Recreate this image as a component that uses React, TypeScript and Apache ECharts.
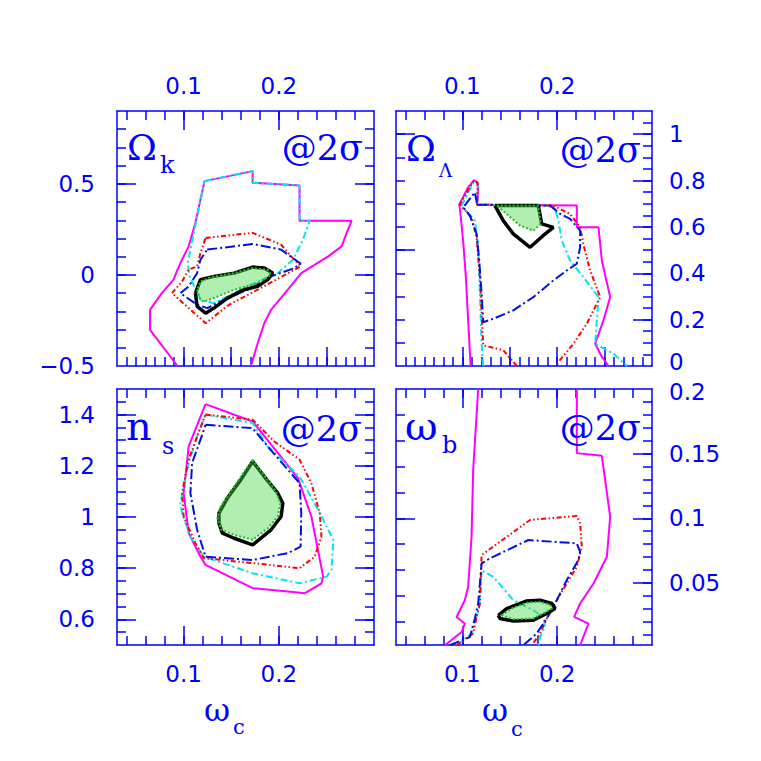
import React, { useEffect, useRef } from "react";
import * as echarts from "echarts";

// ---------- axis ranges & tick labels ----------
const X_MIN = 0.03;
const X_MAX = 0.3;
const xTickVals = [0.1, 0.2];
const xTickLabels = ["0.1", "0.2"];

const okRange = [-0.5, 0.9];
const okTickVals = [-0.5, 0, 0.5];
const okTickLabels = ["\u22120.5", "0", "0.5"];

const olRange = [0, 1.1];
const olTickVals = [0, 0.2, 0.4, 0.6, 0.8, 1];
const olTickLabels = ["0", "0.2", "0.4", "0.6", "0.8", "1"];

const nsRange = [0.5, 1.5];
const nsTickVals = [0.6, 0.8, 1, 1.2, 1.4];
const nsTickLabels = ["0.6", "0.8", "1", "1.2", "1.4"];

const obRange = [0.002, 0.2];
const obTickVals = [0.05, 0.1, 0.15, 0.2];
const obTickLabels = ["0.05", "0.1", "0.15", "0.2"];

// ---------- contour data: Omega_k vs omega_c ----------
const okMagenta = [[0.0936,-0.5],[0.0647,-0.302],[0.0647,-0.192],[0.0771,-0.1],[0.0894,-0.026],[0.0936,0.029],[0.0983,0.084],[0.1053,0.157],[0.1124,0.286],[0.1177,0.414],[0.1219,0.515],[0.1725,0.57],[0.1725,0.506],[0.2218,0.491],[0.2218,0.298],[0.2766,0.298],[0.2713,0.231],[0.266,0.157],[0.2519,0.102],[0.2236,0.01],[0.2095,-0.081],[0.1918,-0.192],[0.1847,-0.265],[0.1778,-0.375],[0.1707,-0.5]];
const okCyan = [[0.1219,0.515],[0.1725,0.57],[0.1725,0.506],[0.2218,0.491],[0.2218,0.298],[0.2324,0.298],[0.2254,0.194],[0.2148,0.084],[0.1989,0.01],[0.1778,-0.036],[0.153,-0.1],[0.1318,-0.155],[0.1177,-0.137],[0.1064,-0.008],[0.1042,0.066],[0.1089,0.184],[0.1142,0.322],[0.1195,0.451]];
const okRed = [[0.1231,0.203],[0.1725,0.231],[0.2024,0.166],[0.213,0.102],[0.2229,0.047],[0.1778,-0.081],[0.1477,-0.164],[0.1231,-0.265],[0.1053,-0.182],[0.0877,-0.1],[0.0983,-0.036],[0.1053,0.029],[0.1142,0.047],[0.1177,0.121]];
const okBlue = [[0.1248,0.139],[0.1725,0.17],[0.2024,0.139],[0.2229,0.062],[0.2165,0.038],[0.1918,-0.008],[0.1671,-0.081],[0.146,-0.127],[0.1248,-0.182],[0.1142,-0.164],[0.0965,-0.1],[0.1053,-0.063],[0.1142,0.01],[0.1177,0.084]];
const okBlack = [[0.1124,-0.1],[0.1142,-0.173],[0.1231,-0.21],[0.1318,-0.182],[0.146,-0.127],[0.1636,-0.081],[0.1778,-0.063],[0.1883,-0.026],[0.1936,0.01],[0.1847,0.038],[0.1725,0.043],[0.153,0.01],[0.1318,-0.008],[0.1177,-0.026]];
const okGreen = [[0.1142,-0.081],[0.1177,-0.137],[0.1212,-0.146],[0.1318,-0.127],[0.153,-0.081],[0.1778,-0.045],[0.1918,0.001],[0.1883,0.029],[0.1725,0.038],[0.153,0.01],[0.1283,-0.012],[0.1177,-0.036]];

// ---------- Omega_Lambda vs omega_c ----------
const olMagenta = [[0.1087,0],[0.1061,0.197],[0.1037,0.383],[0.1008,0.541],[0.0974,0.678],[0.0966,0.696],[0.1061,0.771],[0.1122,0.802],[0.1156,0.792],[0.1167,0.771],[0.1156,0.696],[0.2207,0.692],[0.2207,0.598],[0.2436,0.598],[0.2471,0.455],[0.2559,0.297],[0.2488,0.197],[0.2401,0.096],[0.2471,0.039],[0.2541,0]];
const olRed = [[0.1573,0],[0.1431,0.068],[0.122,0.089],[0.1203,0.226],[0.1185,0.383],[0.115,0.555],[0.1097,0.641],[0.0974,0.696],[0.1114,0.796],[0.1161,0.792],[0.1156,0.696],[0.196,0.692],[0.2136,0.656],[0.2242,0.598],[0.2284,0.512],[0.2348,0.412],[0.2453,0.297],[0.2313,0.183],[0.2171,0.096],[0.1978,0]];
const olCyan = [[0.122,0],[0.1203,0.096],[0.1185,0.312],[0.1167,0.512],[0.1132,0.627],[0.0992,0.692],[0.1122,0.796],[0.1161,0.788],[0.1156,0.696],[0.189,0.692],[0.1978,0.678],[0.2013,0.627],[0.2049,0.541],[0.2136,0.455],[0.2277,0.383],[0.2436,0.297],[0.2419,0.197],[0.2401,0.096],[0.2594,0.053],[0.2736,0]];
const olBlue = [[0.1156,0.696],[0.1925,0.692],[0.2031,0.656],[0.2136,0.635],[0.2242,0.584],[0.2242,0.512],[0.2207,0.441],[0.2101,0.412],[0.196,0.369],[0.1748,0.297],[0.1537,0.24],[0.1326,0.204],[0.122,0.189],[0.1203,0.312],[0.1178,0.455],[0.115,0.57],[0.1079,0.649],[0.1008,0.684],[0.1132,0.749]];
const olBlack = [[0.1344,0.692],[0.1801,0.692],[0.1837,0.613],[0.196,0.598],[0.1854,0.563],[0.1714,0.512],[0.1537,0.57],[0.1431,0.627]];
const olGreen = [[0.1362,0.692],[0.1801,0.692],[0.1827,0.613],[0.1748,0.584],[0.1608,0.606],[0.1467,0.656]];

// ---------- n_s vs omega_c ----------
const nsMagenta = [[0.123,1.441],[0.1725,1.373],[0.2201,1.152],[0.2342,1.002],[0.2466,0.767],[0.2448,0.741],[0.2271,0.702],[0.2201,0.705],[0.1725,0.722],[0.123,0.813],[0.1177,0.845],[0.1053,0.937],[0.1,1.093],[0.1053,1.276]];
const nsRed = [[0.123,1.4],[0.1725,1.38],[0.1953,1.295],[0.2218,1.224],[0.2342,1.132],[0.243,1.015],[0.2448,0.924],[0.2377,0.845],[0.2218,0.8],[0.1725,0.82],[0.1212,0.839],[0.1124,0.898],[0.1,1.002],[0.0983,1.093],[0.1053,1.224],[0.1142,1.315]];
const nsCyan = [[0.123,1.4],[0.1725,1.367],[0.1883,1.276],[0.2218,1.158],[0.2413,1.028],[0.2572,0.911],[0.2554,0.793],[0.2501,0.767],[0.2218,0.741],[0.1725,0.78],[0.1212,0.845],[0.1071,0.924],[0.0983,1.015],[0.0965,1.054],[0.1053,1.211],[0.1142,1.315]];
const nsBlue = [[0.123,1.36],[0.1725,1.347],[0.1883,1.276],[0.2218,1.132],[0.2236,1.015],[0.2229,0.884],[0.2095,0.859],[0.1725,0.832],[0.123,0.845],[0.1142,0.95],[0.1071,1.093],[0.1089,1.211],[0.1177,1.302]];
const nsBlack = [[0.1725,1.217],[0.1847,1.158],[0.1989,1.093],[0.2042,1.054],[0.2024,1.002],[0.1918,0.95],[0.1725,0.891],[0.153,0.917],[0.1407,0.937],[0.1371,0.976],[0.1371,1.015],[0.146,1.074],[0.16,1.145]];
const nsGreen = [[0.1725,1.224],[0.183,1.172],[0.1971,1.1],[0.2017,1.054],[0.1989,1.002],[0.1883,0.956],[0.1725,0.911],[0.153,0.93],[0.1396,0.95],[0.1354,0.996],[0.1389,1.041],[0.153,1.119]];

// ---------- omega_b vs omega_c ----------
const obMagentaL = [[0.1167,0.2],[0.1114,0.1374],[0.1097,0.0857],[0.1061,0.047],[0.1026,0.0367],[0.0939,0.0237],[0.1026,0.0186],[0.0992,0.0121],[0.0815,0.0018]];
const obMagentaR = [[0.2207,0.2],[0.2207,0.1504],[0.2471,0.1483],[0.2559,0.1012],[0.2524,0.0702],[0.2383,0.0496],[0.2242,0.0341],[0.2179,0.0237],[0.233,0.0186],[0.2242,0.0018]];
const obRed = [[0.0939,0.0018],[0.1114,0.0109],[0.115,0.0237],[0.1185,0.0341],[0.1203,0.0716],[0.1714,0.0987],[0.2207,0.1018],[0.2242,0.0961],[0.226,0.078],[0.2207,0.0625],[0.2101,0.0496],[0.1996,0.0367],[0.189,0.0225],[0.1819,0.0109],[0.1731,0.0018]];
const obBlue = [[0.0868,0.0018],[0.1079,0.0082],[0.1132,0.0225],[0.1167,0.0341],[0.1203,0.0651],[0.1291,0.069],[0.1696,0.0832],[0.2207,0.0806],[0.2242,0.0741],[0.2224,0.0677],[0.2101,0.0522],[0.1996,0.0367],[0.189,0.0225],[0.1784,0.0109],[0.1643,0.0018]];
const obCyan = [[0.0939,0.0018],[0.1097,0.0109],[0.115,0.0237],[0.1185,0.0341],[0.1203,0.0599],[0.1326,0.0547],[0.1537,0.0367],[0.1748,0.0289],[0.1854,0.0237],[0.1872,0.016],[0.1819,0.0082],[0.1801,0.0018]];
const obBlack = [[0.1379,0.025],[0.1467,0.0302],[0.1679,0.0361],[0.1819,0.0367],[0.1943,0.0341],[0.1978,0.0302],[0.189,0.0264],[0.1748,0.0212],[0.1537,0.0206],[0.1396,0.0225]];
const obGreen = [[0.1414,0.025],[0.1537,0.031],[0.1696,0.0349],[0.1819,0.0354],[0.1925,0.0333],[0.1943,0.0302],[0.1872,0.0271],[0.1748,0.0225],[0.1537,0.0219]];

// ---------- styling ----------
const BLUE = "#0000ff";
const MAGENTA = "#ff00ff";
const CYAN = "#00e4f4";
const RED = "#ff0000";
const CBLUE = "#0010e0";
const BLACK = "#000000";
const GREEN = "#1fc01f";
const GREEN_FILL = "rgba(70,215,70,0.42)";
const TICK_FONT = "DejaVu Sans";
const LABEL_FONT = "DejaVu Serif";
const TICK_SIZE = 23;

function range(a: number, b: number, step: number) {
  const out: number[] = [];
  const n = Math.round((b - a) / step);
  for (let i = 0; i <= n; i++) out.push(Math.round((a + i * step) * 10000) / 10000);
  return out;
}
const close = (a: number[][]) => [...a, a[0]];

type Side = { long: number[]; short: number[] };
type Panel = {
  grid: { left: number; top: number; width: number; height: number };
  yRange: number[];
  xTop: Side; xBottom: Side; yLeft: Side; yRight: Side;
  xLabelPos: "top" | "bottom";
  yLabelPos: "left" | "right";
  yTickVals: number[]; yTickLabels: string[];
  // edge label drawn separately (nudged) so that the two stacked right-hand labels do not collide
  edgeLabel?: { value: number; dy: number };
};

const xFine: Side = { long: [0.1, 0.15, 0.2, 0.25], short: range(0.04, 0.29, 0.01) };
const xCoarse: Side = { long: [0.1, 0.2], short: range(0.04, 0.28, 0.02) };

const panels: Panel[] = [
  {
    grid: { left: 117, top: 111, width: 257, height: 255 }, yRange: okRange,
    xTop: xCoarse, xBottom: xFine,
    yLeft: { long: [0, 0.5], short: range(-0.4, 0.8, 0.1) },
    yRight: { long: [0, 0.5], short: range(-0.4, 0.8, 0.1) },
    xLabelPos: "top", yLabelPos: "left", yTickVals: okTickVals, yTickLabels: okTickLabels,
  },
  {
    grid: { left: 396, top: 111, width: 256, height: 255 }, yRange: olRange,
    xTop: xCoarse, xBottom: xFine,
    yLeft: { long: [0.5, 1], short: range(0.1, 1.0, 0.1) },
    yRight: { long: [0.2, 0.4, 0.6, 0.8, 1], short: range(0.05, 1.05, 0.05) },
    xLabelPos: "top", yLabelPos: "right", yTickVals: olTickVals, yTickLabels: olTickLabels,
    edgeLabel: { value: 0, dy: -4 },
  },
  {
    grid: { left: 117, top: 389, width: 257, height: 256 }, yRange: nsRange,
    xTop: xCoarse, xBottom: xCoarse,
    yLeft: { long: [0.6, 0.8, 1, 1.2, 1.4], short: range(0.55, 1.45, 0.05) },
    yRight: { long: [0.6, 0.8, 1, 1.2, 1.4], short: range(0.55, 1.45, 0.05) },
    xLabelPos: "bottom", yLabelPos: "left", yTickVals: nsTickVals, yTickLabels: nsTickLabels,
  },
  {
    grid: { left: 396, top: 389, width: 256, height: 256 }, yRange: obRange,
    xTop: xCoarse, xBottom: xCoarse,
    yLeft: { long: [0.1], short: range(0.02, 0.18, 0.02) },
    yRight: { long: [0.05, 0.1, 0.15], short: range(0.01, 0.19, 0.01) },
    xLabelPos: "bottom", yLabelPos: "right", yTickVals: obTickVals, yTickLabels: obTickLabels,
    edgeLabel: { value: 0.2, dy: 3 },
  },
];

function fmt(vals: number[], labels: string[]) {
  return (v: number) => {
    const i = vals.findIndex((t) => Math.abs(t - v) < 1e-7);
    return i >= 0 ? labels[i] : "";
  };
}

function mkAxis(
  gridIndex: number, position: string, min: number, max: number,
  ticks: number[], len: number, showLine: boolean,
  label: null | { vals: number[]; texts: string[]; margin: number; skip?: number }
) {
  return {
    type: "value", gridIndex, position, min, max,
    axisLine: { show: showLine, onZero: false, lineStyle: { color: BLUE, width: 1.5 } },
    axisTick: { show: true, inside: true, length: len, customValues: ticks, lineStyle: { color: BLUE, width: 1.5 } },
    axisLabel: label
      ? {
          show: true,
          customValues: label.vals.filter((v) => label.skip === undefined || Math.abs(v - label.skip) > 1e-9),
          formatter: fmt(label.vals, label.texts),
          margin: label.margin, color: BLUE, fontSize: TICK_SIZE, fontFamily: TICK_FONT,
        }
      : { show: false },
    splitLine: { show: false },
    minorTick: { show: false },
  };
}

function buildOption() {
  const xAxes: any[] = [];
  const yAxes: any[] = [];
  const mainX: number[] = [];
  const mainY: number[] = [];
  const extraText: any[] = [];
  panels.forEach((p, gi) => {
    const xLab = { vals: xTickVals, texts: xTickLabels, margin: p.xLabelPos === "top" ? 14 : 17 };
    mainX[gi] = xAxes.length;
    xAxes.push(mkAxis(gi, "bottom", X_MIN, X_MAX, p.xBottom.long, 19, true, p.xLabelPos === "bottom" ? xLab : null));
    xAxes.push(mkAxis(gi, "bottom", X_MIN, X_MAX, p.xBottom.short, 9, false, null));
    xAxes.push(mkAxis(gi, "top", X_MIN, X_MAX, p.xTop.long, 19, true, p.xLabelPos === "top" ? xLab : null));
    xAxes.push(mkAxis(gi, "top", X_MIN, X_MAX, p.xTop.short, 9, false, null));
    const yMargin = p.yLabelPos === "left" ? 22 : 17;
    const yLab = { vals: p.yTickVals, texts: p.yTickLabels, margin: yMargin, skip: p.edgeLabel?.value };
    mainY[gi] = yAxes.length;
    yAxes.push(mkAxis(gi, "left", p.yRange[0], p.yRange[1], p.yLeft.long, 19, true, p.yLabelPos === "left" ? yLab : null));
    yAxes.push(mkAxis(gi, "left", p.yRange[0], p.yRange[1], p.yLeft.short, 9, false, null));
    yAxes.push(mkAxis(gi, "right", p.yRange[0], p.yRange[1], p.yRight.long, 19, true, p.yLabelPos === "right" ? yLab : null));
    yAxes.push(mkAxis(gi, "right", p.yRange[0], p.yRange[1], p.yRight.short, 9, false, null));
    if (p.edgeLabel) {
      const ev = p.edgeLabel.value;
      const frac = (ev - p.yRange[0]) / (p.yRange[1] - p.yRange[0]);
      const py = p.grid.top + p.grid.height * (1 - frac) + p.edgeLabel.dy;
      extraText.push({
        type: "text", x: p.grid.left + p.grid.width + yMargin, y: py, z: 20, silent: true,
        style: {
          text: fmt(p.yTickVals, p.yTickLabels)(ev), fill: BLUE, fontSize: TICK_SIZE, fontFamily: TICK_FONT,
          textAlign: "left", textVerticalAlign: "middle", verticalAlign: "middle",
        },
      });
    }
  });

  const series: any[] = [];
  const line = (gi: number, data: number[][], color: string, width: number, type: any, z: number) => {
    series.push({
      type: "line", xAxisIndex: mainX[gi], yAxisIndex: mainY[gi], data,
      symbol: "none", showSymbol: false, smooth: false, silent: true, z,
      lineStyle: { color, width, type },
    });
  };
  const fill = (gi: number, pts: number[][]) => {
    series.push({
      type: "custom", xAxisIndex: mainX[gi], yAxisIndex: mainY[gi], data: [pts[0]],
      silent: true, z: 8,
      renderItem: (_params: any, api: any) => ({
        type: "polygon",
        shape: { points: pts.map((q) => api.coord(q)) },
        style: { fill: GREEN_FILL, stroke: GREEN, lineWidth: 2, lineDash: [2, 2] },
      }),
    });
  };
  const DCYAN = [7, 3, 2, 3];
  const DRED = [5, 2.5, 1.5, 2.5, 1.5, 2.5];
  const DBLUE = [10, 3, 2, 3];
  const W = 2;

  // Omega_k
  line(0, okMagenta, MAGENTA, W, "solid", 2);
  line(0, close(okCyan), CYAN, W, DCYAN, 3);
  line(0, close(okRed), RED, W, DRED, 4);
  line(0, close(okBlue), CBLUE, W, DBLUE, 5);
  line(0, close(okBlack), BLACK, 3.5, "solid", 6);
  fill(0, okGreen);
  // Omega_Lambda
  line(1, olMagenta, MAGENTA, W, "solid", 2);
  line(1, olCyan, CYAN, W, DCYAN, 3);
  line(1, olRed, RED, W, DRED, 4);
  line(1, close(olBlue), CBLUE, W, DBLUE, 5);
  line(1, close(olBlack), BLACK, 3.5, "solid", 6);
  fill(1, olGreen);
  // n_s
  line(2, close(nsMagenta), MAGENTA, W, "solid", 2);
  line(2, close(nsCyan), CYAN, W, DCYAN, 3);
  line(2, close(nsRed), RED, W, DRED, 4);
  line(2, close(nsBlue), CBLUE, W, DBLUE, 5);
  line(2, close(nsBlack), BLACK, 3.5, "solid", 6);
  fill(2, nsGreen);
  // omega_b
  line(3, obMagentaL, MAGENTA, W, "solid", 2);
  line(3, obMagentaR, MAGENTA, W, "solid", 2);
  line(3, obCyan, CYAN, W, DCYAN, 3);
  line(3, obRed, RED, W, DRED, 4);
  line(3, obBlue, CBLUE, W, DBLUE, 5);
  line(3, close(obBlack), BLACK, 3.5, "solid", 6);
  fill(3, obGreen);

  const txt = (text: string, x: number, y: number, size: number, align = "left") => ({
    type: "text", x, y, z: 20, silent: true,
    style: {
      text, fill: BLUE, fontSize: size, fontFamily: LABEL_FONT,
      textAlign: align, textVerticalAlign: "middle", verticalAlign: "middle",
    },
  });

  const graphic = [
    txt("\u03A9", 127, 147, 36), txt("k", 160, 165, 24), txt("@2\u03C3", 363, 148, 35, "right"),
    txt("\u03A9", 406, 148, 36), txt("\u039B", 439, 170, 18), txt("@2\u03C3", 641, 150, 35, "right"),
    txt("n", 126, 426, 40), txt("s", 162, 446, 24), txt("@2\u03C3", 362, 429, 35, "right"),
    txt("\u03C9", 405, 426, 40), txt("b", 442, 445, 24), txt("@2\u03C3", 641, 428, 35, "right"),
    txt("\u03C9", 204, 710, 32), txt("c", 233, 727, 21),
    txt("\u03C9", 482, 710, 32), txt("c", 511, 729, 21),
    ...extraText,
  ];

  return {
    animation: false,
    backgroundColor: "#ffffff",
    grid: panels.map((p) => ({ ...p.grid, show: false, containLabel: false })),
    xAxis: xAxes,
    yAxis: yAxes,
    series,
    graphic,
  };
}

export default function App() {
  const ref = useRef<HTMLDivElement>(null);
  useEffect(() => {
    if (!ref.current) return;
    const chart = echarts.init(ref.current, undefined, { renderer: "svg" });
    chart.setOption(buildOption() as any);
    return () => chart.dispose();
  }, []);
  return (
    <div
      ref={ref}
      style={{ position: "absolute", left: 0, top: 0, width: 761, height: 761, background: "#fff" }}
    />
  );
}
